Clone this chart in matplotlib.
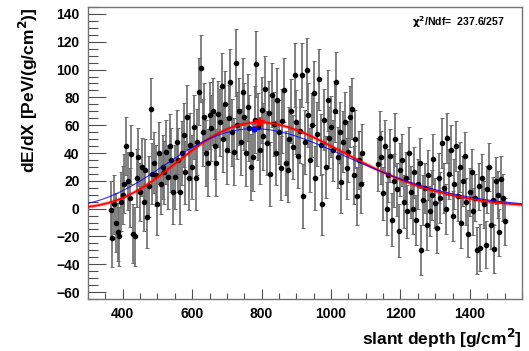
import numpy as np
import matplotlib
matplotlib.use("Agg")
import matplotlib.pyplot as plt
from matplotlib.ticker import MultipleLocator

plt.rcParams['font.family'] = ['Liberation Sans', 'DejaVu Sans']
plt.rcParams['font.weight'] = 'bold'

# slant depth bins (g/cm2), two stretches with a gap near 1100
x_a = np.arange(365, 1091, 5)
x_b = np.arange(1135, 1501, 5)

# dE/dX values
y_a = [-1, -21, 3, -10, -17, -20, 5, 10, 18, 45,
       20, 8, 39, -18, -20, 22, 37, 12, 30, 5,
       28, -6, 16, 72, 25, 33, 24, 3, 40, 18,
       30, 26, 41, 23, 45, 35, 12, 23, 48, 35,
       12, 40, 53, 26, 66, 22, 46, 30, 59, 22,
       48, 84, 101, 55, 66, 40, 33, 67, 58, 70,
       45, 33, 68, 62, 88, 50, 75, 42, 65, 91,
       55, 41, 105, 60, 70, 48, 84, 66, 40, 73,
       58, 30, 37, 64, 104, 59, 42, 71, 52, 86,
       47, 69, 25, 82, 61, 40, 78, 55, 29, 63,
       85, 33, 28, 50, 70, 44, 96, 62, 38, 56,
       96, 9, 48, 100, 67, 35, 60, 83, 22, 54,
       93, 46, 3, 64, 30, 78, 51, 59, 42, 70,
       91, 37, 55, 19, 48, 62, 29, 41, 66, 72,
       24, 50, 9, 35, 18, 40]
y_b = [32, 51, 37, 11, 45, 0, 24, 38, -8, 20,
       50, 14, -16, 28, 35, 5, 22, -2, 40, 12,
       0, 26, -8, 18, 33, -30, 6, 15, -12, 24,
       -2, 10, 36, 4, -14, 22, 8, 47, 15, 0,
       51, 25, 42, -5, 18, 45, 9, 30, -10, 20,
       38, 5, -18, 12, 26, -2, 8, -30, 16, -28,
       22, 3, -26, 14, 30, -12, 6, -29, 20, 10,
       -17, 21, 8, -9]

# error estimates, one per group of 10 points
err_a_groups = [21, 21, 22, 23, 23, 24, 24, 24, 24, 23, 23, 23, 22, 22, 21]
err_b_groups = [19, 19, 18, 18, 18, 17, 17, 17]

# fitted Gaisser-Hillas parameters
red_fit = dict(nmax=62.0, xmax=793.0, x0=0.0, lam=72.0)
blue_fit = dict(nmax=57.5, xmax=778.0, x0=-100.0, lam=78.0)
chi2_text = r"$\mathbf{\chi^{2}}$/Ndf=  237.6/257"


def gh(X, nmax, xmax, x0, lam):
    t = (X - x0) / (xmax - x0)
    return nmax * np.power(t, (xmax - x0) / lam) * np.exp((xmax - X) / lam)


x = np.concatenate([x_a, x_b])
y = np.array(y_a + y_b, dtype=float)
err_a = np.repeat(err_a_groups, 10)[:len(x_a)]
err_b = np.repeat(err_b_groups, 10)[:len(x_b)]
err = np.concatenate([err_a, err_b])

fig = plt.figure(figsize=(5.29, 3.51), dpi=100)
ax = fig.add_axes([0.1664, 0.1481, 0.8204, 0.8319])

ax.errorbar(x, y, yerr=err, fmt='o', ms=3.0, color='black', mec='black',
            ecolor='0.42', elinewidth=1.2, capsize=1.3, capthick=0.7, zorder=2)

xx = np.linspace(300, 1550, 600)
ax.plot(xx, gh(xx, **red_fit), color='red', lw=2.6, alpha=0.35, zorder=3)
ax.plot(xx, gh(xx, **red_fit), color='red', lw=1.2, zorder=4)
ax.plot(xx, gh(xx, **blue_fit), color='blue', lw=0.8, alpha=0.8, zorder=5)
ax.plot([red_fit['xmax']], [red_fit['nmax']], marker='*', color='red', ms=7, zorder=6)
ax.plot([blue_fit['xmax']], [blue_fit['nmax']], marker='o', color='blue', ms=3.5, zorder=6)

ax.set_xlim(300, 1550)
ax.set_ylim(-65, 145)
ax.xaxis.set_major_locator(MultipleLocator(200))
ax.xaxis.set_minor_locator(MultipleLocator(50))
ax.yaxis.set_major_locator(MultipleLocator(20))
ax.yaxis.set_minor_locator(MultipleLocator(5))
ax.tick_params(axis='both', which='both', direction='in', top=False, right=False,
               labelsize=10, width=0.8, color='0.3')
ax.tick_params(axis='x', which='major', length=7, pad=6)
ax.tick_params(axis='x', which='minor', length=4)
ax.tick_params(axis='y', which='major', length=13, pad=6)
ax.tick_params(axis='y', which='minor', length=7)
for s in ax.spines.values():
    s.set_color('0.45')
    s.set_linewidth(1.0)

ax.set_xlabel(r"slant depth [g/cm$^{\mathbf{2}}$]", fontsize=12.5, fontweight='bold')
ax.xaxis.set_label_coords(1.0, -0.095)
ax.xaxis.label.set_horizontalalignment('right')
ax.set_ylabel(r"dE/dX [PeV/(g/cm$^{\mathbf{2}}$)]", fontsize=12.5, fontweight='bold')
ax.yaxis.set_label_coords(-0.11, 1.0)
ax.yaxis.label.set_horizontalalignment('right')

ax.text(0.961, 0.949, chi2_text, transform=ax.transAxes, ha='right', va='center',
        fontsize=7.6, fontweight='bold')

fig.savefig("out.png", dpi=100)
